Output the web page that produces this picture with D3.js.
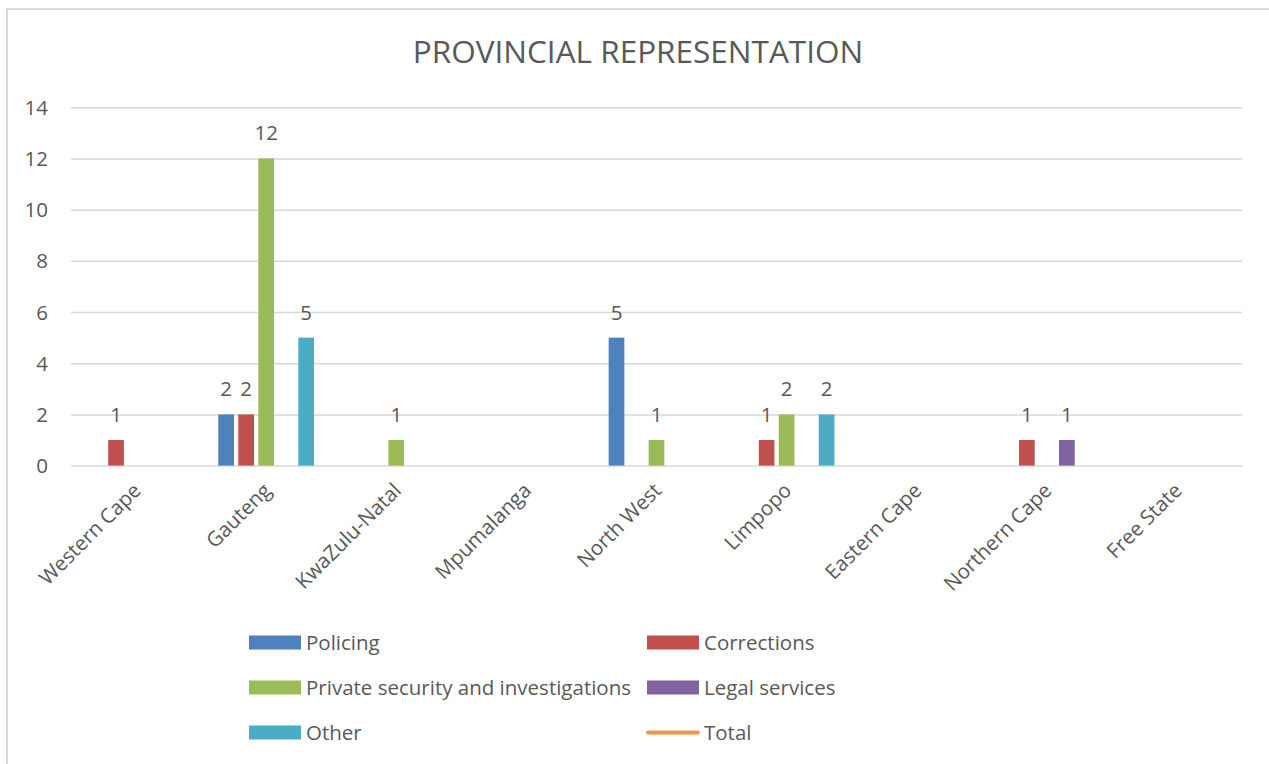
<!DOCTYPE html>
<html>
<head>
<meta charset="utf-8">
<script src="https://cdn.jsdelivr.net/npm/d3@7/dist/d3.min.js"></script>
<style>
  html, body { margin: 0; padding: 0; background: #fff; }
  svg { display: block; }
  text { font-family: "Open Sans", Lato, sans-serif; fill: #595959; }
</style>
</head>
<body>
<svg id="chart" width="1269" height="764"></svg>
<script>
// Provinces along the category axis
const provinces = ["Western Cape", "Gauteng", "KwaZulu-Natal", "Mpumalanga", "North West",
                   "Limpopo", "Eastern Cape", "Northern Cape", "Free State"];

// Bar series (counts per province)
const seriesNames = ["Policing", "Corrections", "Private security and investigations", "Legal services", "Other"];
const policing    = [0, 2, 0, 0, 5, 0, 0, 0, 0];
const corrections = [1, 2, 0, 0, 0, 1, 0, 1, 0];
const privateSec  = [0, 12, 1, 0, 1, 2, 0, 0, 0];
const legal       = [0, 0, 0, 0, 0, 0, 0, 1, 0];
const other       = [0, 5, 0, 0, 0, 2, 0, 0, 0];
const seriesValues = [policing, corrections, privateSec, legal, other];
const seriesColors = ["#4F81BD", "#C0504D", "#9BBB59", "#8064A2", "#4BACC6"];

// Line series listed in the legend
const totalName = "Total";
const totalColor = "#F79646";

const yTicks = [0, 2, 4, 6, 8, 10, 12, 14];

const svg = d3.select("#chart");

// chart frame (extends past the right/bottom edges)
svg.append("rect")
  .attr("x", 7).attr("y", 9)
  .attr("width", 1300).attr("height", 800)
  .attr("fill", "#fff").attr("stroke", "#D9D9D9").attr("stroke-width", 2);

const plot = { left: 71, right: 1242, top: 107.3, bottom: 465.6 };

const x0 = d3.scaleBand().domain(provinces).range([plot.left, plot.right]).padding(0);
const groupHalf = 47.85;
const x1 = d3.scaleBand().domain(seriesNames).range([-groupHalf, groupHalf])
  .paddingInner(0.215).paddingOuter(0);
const y = d3.scaleLinear().domain([0, 14]).range([plot.bottom, plot.top]);

// Title
svg.append("text")
  .attr("x", 638).attr("y", 63)
  .attr("text-anchor", "middle")
  .style("font-size", "31.5px")
  .text("PROVINCIAL REPRESENTATION");

// Gridlines
const yAxis = d3.axisLeft(y).tickValues(yTicks).tickSize(-(plot.right - plot.left)).tickPadding(23);
const gy = svg.append("g").attr("transform", `translate(${plot.left},0)`).call(yAxis);
gy.select(".domain").remove();
gy.selectAll(".tick line").attr("stroke", "#D9D9D9").attr("stroke-width", 1.5);
gy.selectAll(".tick text").style("font-size", "20.5px").attr("fill", "#595959").attr("dy", "0.34em");

// Category axis labels, rotated
const xAxis = d3.axisBottom(x0).tickSize(0).tickPadding(0);
const gx = svg.append("g").attr("transform", `translate(0,${plot.bottom})`).call(xAxis);
gx.select(".domain").remove();
gx.selectAll(".tick text")
  .style("font-size", "20.5px")
  .attr("fill", "#595959")
  .attr("text-anchor", "end")
  .attr("transform", "translate(-4,16) rotate(-45)")
  .attr("dy", "0.7em").attr("y", 0).attr("x", 0);

// Bars
const rows = [];
seriesNames.forEach((name, si) => {
  seriesValues[si].forEach((v, pi) => {
    if (v > 0) rows.push({ name, si, province: provinces[pi], value: v });
  });
});

const bars = svg.append("g");
bars.selectAll("rect").data(rows).join("rect")
  .attr("x", d => x0(d.province) + x0.bandwidth() / 2 + x1(d.name))
  .attr("y", d => y(d.value))
  .attr("width", x1.bandwidth())
  .attr("height", d => y(0) - y(d.value))
  .attr("fill", d => seriesColors[d.si]);

// Value labels
bars.selectAll("text").data(rows).join("text")
  .attr("x", d => x0(d.province) + x0.bandwidth() / 2 + x1(d.name) + x1.bandwidth() / 2)
  .attr("y", d => y(d.value) - 18)
  .attr("text-anchor", "middle")
  .style("font-size", "20.5px")
  .attr("fill", "#404040")
  .text(d => d.value);

// Legend
const legendItems = seriesNames.map((n, i) => ({ name: n, color: seriesColors[i], type: "bar" }))
  .concat([{ name: totalName, color: totalColor, type: "line" }]);
const colX = [249, 647];
const rowY = [642.5, 687.5, 732.5];
const lg = svg.append("g");
legendItems.forEach((d, i) => {
  const cx = colX[i % 2], cy = rowY[Math.floor(i / 2)];
  if (d.type === "bar") {
    lg.append("rect").attr("x", cx).attr("y", cy - 7).attr("width", 52).attr("height", 14).attr("fill", d.color);
  } else {
    lg.append("line").attr("x1", cx + 1).attr("x2", cx + 51).attr("y1", cy).attr("y2", cy)
      .attr("stroke", d.color).attr("stroke-width", 4).attr("stroke-linecap", "round");
  }
  lg.append("text").attr("x", cx + 57).attr("y", cy).attr("dy", "0.35em")
    .style("font-size", "20.5px").text(d.name);
});
</script>
</body>
</html>
